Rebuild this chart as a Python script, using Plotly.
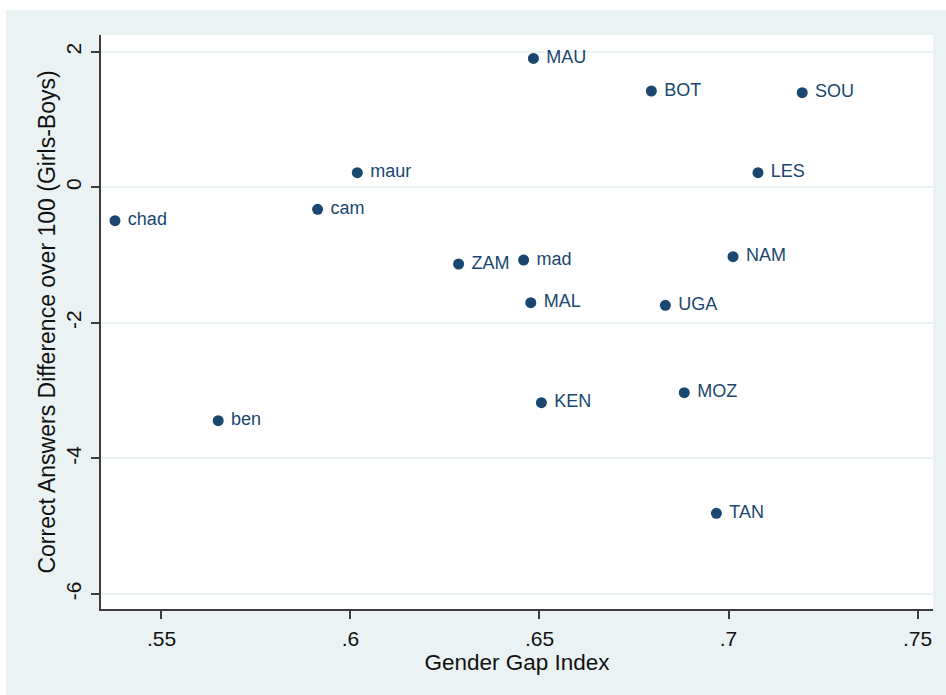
import plotly.graph_objects as go

# Country codes and their values
countries = ["MAU", "BOT", "SOU", "LES", "maur", "chad", "cam", "ZAM",
             "mad", "NAM", "MAL", "UGA", "ben", "KEN", "MOZ", "TAN"]
gender_gap_index = [0.6484, 0.6796, 0.7195, 0.7078, 0.6018, 0.5377, 0.5913, 0.6286,
                    0.6458, 0.7012, 0.6477, 0.6833, 0.5650, 0.6505, 0.6883, 0.6968]
answer_diff = [1.90, 1.42, 1.395, 0.215, 0.215, -0.493, -0.325, -1.132,
               -1.073, -1.024, -1.703, -1.741, -3.443, -3.178, -3.030, -4.809]

x_ticks = [0.55, 0.60, 0.65, 0.70, 0.75]
x_tick_labels = [".55", ".6", ".65", ".7", ".75"]
y_ticks = [2, 0, -2, -4, -6]
y_tick_labels = ["2", "0", "-2", "-4", "-6"]

NAVY = "#1a476f"
BG = "#eaf2f3"
INK = "#111111"
FONT = "Liberation Sans, Arial, Helvetica, sans-serif"

W, H = 946, 695
ML, MR, MT, MB = 101, 13, 35, 86
PW, PH = W - ML - MR, H - MT - MB

fig = go.Figure()
fig.add_trace(go.Scatter(
    x=gender_gap_index,
    y=answer_diff,
    mode="markers+text",
    text=["\u00a0" + c for c in countries],
    textposition="middle right",
    textfont=dict(family=FONT, size=18, color=NAVY),
    marker=dict(size=11, color=NAVY, line=dict(width=0)),
    hoverinfo="skip",
    showlegend=False,
    cliponaxis=False,
))

# white margin strips around the shaded graph region
fig.add_shape(type="rect", xref="paper", yref="paper",
              x0=-ML / PW, x1=(6 - ML) / PW, y0=-MB / PH, y1=1 + MT / PH,
              fillcolor="white", line=dict(width=0), layer="below")
fig.add_shape(type="rect", xref="paper", yref="paper",
              x0=-ML / PW, x1=1 + MR / PW, y0=1 + (MT - 10) / PH, y1=1 + MT / PH,
              fillcolor="white", line=dict(width=0), layer="below")

fig.update_layout(
    width=W, height=H,
    margin=dict(l=ML, r=MR, t=MT, b=MB, pad=0),
    paper_bgcolor=BG,
    plot_bgcolor="white",
    font=dict(family=FONT, color=INK),
    xaxis=dict(
        range=[0.534, 0.7541],
        tickvals=x_ticks, ticktext=x_tick_labels,
        ticks="outside", ticklen=8, tickwidth=1.5, tickcolor="#3c3c3c",
        showline=True, linecolor="#3c3c3c", linewidth=1.5,
        showgrid=False, zeroline=False,
        tickfont=dict(size=21, color=INK),
        ticklabelstandoff=2,
        title=dict(text="Gender Gap Index", font=dict(size=22.5, color=INK), standoff=2),
    ),
    yaxis=dict(
        range=[-6.221, 2.246],
        tickvals=y_ticks, ticktext=y_tick_labels,
        tickangle=-90,
        ticks="outside", ticklen=8, tickwidth=1.5, tickcolor="#3c3c3c",
        showline=True, linecolor="#3c3c3c", linewidth=1.5,
        showgrid=True, gridcolor=BG, gridwidth=1.5, zeroline=False,
        tickfont=dict(size=21, color=INK),
        ticklabelstandoff=2,
        title=dict(text="Correct Answers Difference over 100 (Girls-Boys)",
                   font=dict(size=23, color=INK), standoff=0),
    ),
)

fig.write_html("out.html")
